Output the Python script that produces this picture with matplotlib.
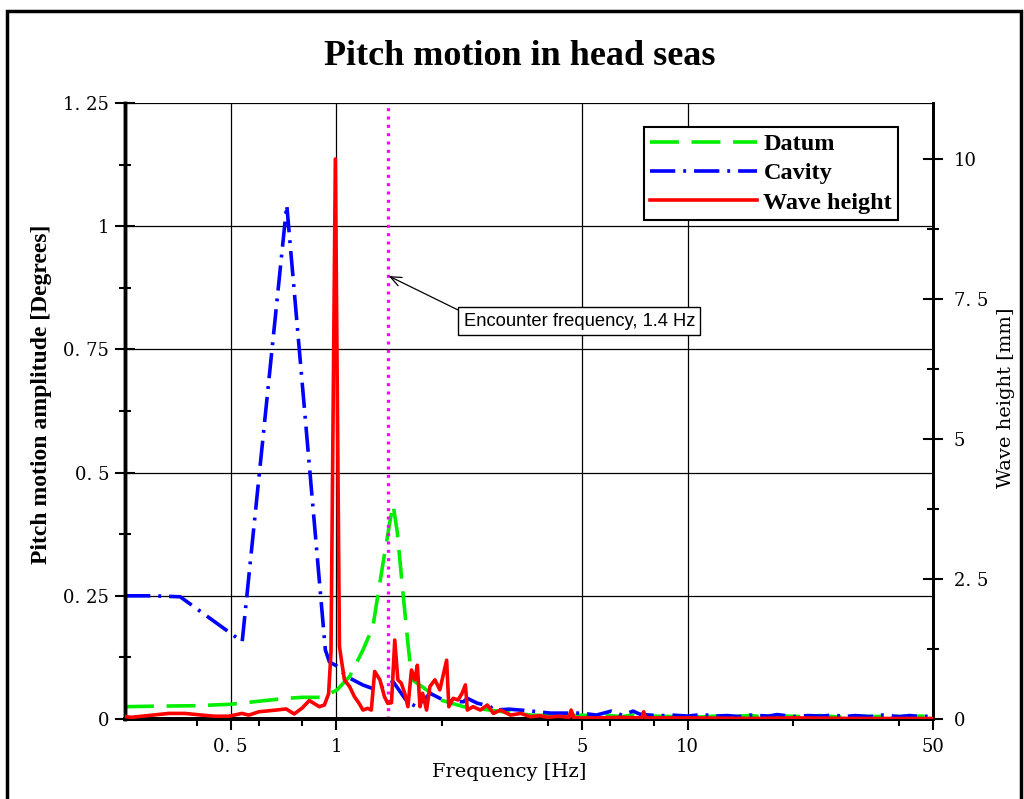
import numpy as np
import matplotlib
matplotlib.use("Agg")
import matplotlib.pyplot as plt
from matplotlib.ticker import NullFormatter
from matplotlib.patches import Rectangle

# Datum pitch amplitude [deg] vs frequency [Hz]
datum_f = [0.25, 0.3, 0.4, 0.5, 0.6, 0.72, 0.8, 0.9, 1.0, 1.09, 1.19, 1.27, 1.36, 1.42, 1.45,
           1.49, 1.55, 1.6, 1.64, 1.76, 1.97, 2.3, 2.74, 3.2, 3.57, 4.0, 4.5, 5.0, 5.5, 6.0, 6.5,
           7.0, 7.5, 8.0, 9.0, 10, 11, 12, 13.5, 15, 17, 19, 21, 24, 27, 30, 34, 38, 42, 46, 50]
datum_v = [0.025, 0.026, 0.027, 0.030, 0.036, 0.042, 0.044, 0.044, 0.058, 0.086, 0.14, 0.187,
           0.32, 0.40, 0.435, 0.38, 0.25, 0.15, 0.08, 0.065, 0.039, 0.025, 0.018, 0.012, 0.008,
           0.007, 0.006, 0.008, 0.005, 0.007, 0.005, 0.008, 0.005, 0.006, 0.005, 0.007, 0.004,
           0.006, 0.005, 0.007, 0.004, 0.006, 0.005, 0.007, 0.004, 0.006, 0.005, 0.006, 0.004,
           0.006, 0.005]

# Cavity pitch amplitude [deg]
cavity_f = [0.25, 0.3, 0.359, 0.539, 0.722, 0.93, 0.955, 1.0, 1.07, 1.19, 1.30, 1.45, 1.59,
            1.69, 1.85, 2.01, 2.15, 2.3, 2.36, 2.52, 2.74, 2.8, 3.1, 3.5, 4.07, 4.44, 4.97, 5.5,
            6.06, 6.5, 7.0, 7.3, 7.8, 8.5, 9.0, 10, 11, 12, 13, 14, 15, 17, 18, 20, 22, 24, 26,
            28, 30, 33, 36, 40, 43, 46, 50]
cavity_v = [0.25, 0.25, 0.248, 0.157, 1.043, 0.14, 0.116, 0.108, 0.086, 0.069, 0.059, 0.076,
            0.035, 0.025, 0.052, 0.039, 0.036, 0.035, 0.042, 0.032, 0.026, 0.018, 0.02, 0.017,
            0.012, 0.012, 0.012, 0.008, 0.016, 0.008, 0.016, 0.01, 0.008, 0.007, 0.008, 0.006,
            0.009, 0.006, 0.007, 0.005, 0.008, 0.006, 0.009, 0.005, 0.007, 0.006, 0.008, 0.005,
            0.007, 0.005, 0.008, 0.005, 0.007, 0.005, 0.006]

# Wave height [mm] (right axis)
wave_f = [0.247, 0.26, 0.30, 0.333, 0.37, 0.414, 0.45, 0.494, 0.538, 0.563, 0.602, 0.673, 0.719,
          0.758, 0.80, 0.837, 0.894, 0.924, 0.95, 0.965, 0.993, 1.02, 1.03, 1.054, 1.09, 1.125,
          1.16, 1.19, 1.227, 1.257, 1.285, 1.33, 1.37, 1.40, 1.435, 1.466, 1.496, 1.53, 1.565,
          1.598, 1.636, 1.672, 1.70, 1.73, 1.76, 1.806, 1.846, 1.908, 1.97, 2.01, 2.06, 2.09,
          2.15, 2.22, 2.28, 2.33, 2.36, 2.45, 2.57, 2.69, 2.8, 2.93, 3.13, 3.35, 3.57, 3.8, 4.0,
          4.3, 4.6, 4.66, 4.75, 5.5, 6.5, 7.4, 7.5, 7.6, 10, 15, 20, 30, 50]
wave_v = [0.05, 0.03, 0.07, 0.10, 0.10, 0.07, 0.05, 0.05, 0.10, 0.07, 0.13, 0.16, 0.18, 0.09,
          0.20, 0.33, 0.22, 0.25, 0.45, 1.2, 10.0, 1.3, 1.11, 0.70, 0.58, 0.40, 0.28, 0.16, 0.19,
          0.16, 0.85, 0.70, 0.40, 0.28, 0.29, 1.41, 0.70, 0.64, 0.46, 0.22, 0.875, 0.70, 0.96,
          0.22, 0.46, 0.16, 0.58, 0.70, 0.52, 0.76, 1.05, 0.22, 0.37, 0.34, 0.46, 0.61, 0.16,
          0.22, 0.16, 0.25, 0.10, 0.16, 0.07, 0.10, 0.04, 0.06, 0.03, 0.05, 0.03, 0.16, 0.02,
          0.02, 0.03, 0.02, 0.13, 0.02, 0.02, 0.01, 0.02, 0.01, 0.01]

encounter_f = 1.4

x_ticks = [0.5, 1, 5, 10, 50]
x_labels = ["0. 5", "1", "5", "10", "50"]
x_minor = [0.4, 0.6, 0.8, 2, 4, 6, 8, 20, 40]
yl_ticks = [0, 0.25, 0.5, 0.75, 1.0, 1.25]
yl_labels = ["0", "0. 25", "0. 5", "0. 75", "1", "1. 25"]
yl_minor = [0.125, 0.375, 0.625, 0.875, 1.125]
yr_ticks = [0, 2.5, 5, 7.5, 10]
yr_labels = ["0", "2. 5", "5", "7. 5", "10"]
yr_minor = [1.25, 3.75, 6.25, 8.75]

tick_font = "DejaVu Serif"
bold_font = "Liberation Serif"

fig = plt.figure(figsize=(10.24, 7.99), dpi=100)
ax = fig.add_axes([0.1221, 0.1001, 0.789, 0.771])
ax2 = ax.twinx()

ax.set_xscale("log")
ax.set_xlim(0.25, 50)
ax.set_ylim(0, 1.25)
ax2.set_ylim(0, 11)

ax.grid(True, which="major", color="black", lw=0.9)
ax.set_axisbelow(True)

l1, = ax.plot(datum_f, datum_v, color="#00ee00", lw=2.6, dashes=(8, 3.5), label="Datum")
l2, = ax.plot(cavity_f, cavity_v, color="#0000ff", lw=2.6, dashes=(7, 2.2, 0.8, 2.2), label="Cavity")
ax2.axvline(encounter_f, color="#ff00ff", lw=2.4, ls=(0, (0.9, 1.6)), zorder=1)
l3, = ax2.plot(wave_f, wave_v, color="#ff0000", lw=2.6, label="Wave height", zorder=3)

ax.set_xticks(x_ticks)
ax.set_xticklabels(x_labels, family=tick_font, fontsize=13)
ax.set_xticks(x_minor, minor=True)
ax.xaxis.set_minor_formatter(NullFormatter())
ax.set_yticks(yl_ticks)
ax.set_yticklabels(yl_labels, family=tick_font, fontsize=13)
ax.set_yticks(yl_minor, minor=True)
ax2.set_yticks(yr_ticks)
ax2.set_yticklabels(yr_labels, family=tick_font, fontsize=13)
ax2.set_yticks(yr_minor, minor=True)

ax.tick_params(axis="x", which="major", direction="out", length=8, width=1.5, pad=6)
ax.tick_params(axis="x", which="minor", direction="out", length=5, width=1.5)
ax.tick_params(axis="y", which="major", direction="inout", length=15, width=1.5, pad=4)
ax.tick_params(axis="y", which="minor", direction="inout", length=9, width=1.5)
ax2.tick_params(axis="y", which="major", direction="inout", length=14, width=1.5, pad=8)
ax2.tick_params(axis="y", which="minor", direction="inout", length=9, width=1.5)

for a in (ax, ax2):
    a.spines["top"].set_visible(False)
    a.spines["left"].set_linewidth(2.5)
    a.spines["bottom"].set_linewidth(2.8)
    a.spines["right"].set_linewidth(2.0)

ax2.annotate("Encounter frequency, 1.4 Hz", xy=(1.41, 7.91), xycoords="data",
             xytext=(0.419, 0.632), textcoords="axes fraction", ha="left", va="bottom",
             family="Liberation Sans", fontsize=13.2,
             bbox=dict(boxstyle="square,pad=0.3", fc="white", ec="black", lw=1.0),
             arrowprops=dict(arrowstyle="->,head_length=0.6,head_width=0.25", color="black",
                             lw=0.9, relpos=(0, 1), shrinkA=0, shrinkB=0))

leg = ax2.legend([l1, l2, l3], ["Datum", "Cavity", "Wave height"], loc="upper right",
                 bbox_to_anchor=(0.957, 0.961), borderaxespad=0, fancybox=False,
                 framealpha=1, edgecolor="black", handlelength=4.4, handletextpad=0.25,
                 labelspacing=0.3, borderpad=0.25,
                 prop={"family": bold_font, "weight": "bold", "size": 17.5})
leg.get_frame().set_linewidth(1.5)

fig.text(0.508, 0.929, "Pitch motion in head seas", ha="center", va="center",
         family=bold_font, weight="bold", fontsize=26)
fig.text(0.041, 0.506, "Pitch motion amplitude [Degrees]", ha="center", va="center",
         rotation=90, family=bold_font, weight="bold", fontsize=17)
fig.text(0.497, 0.034, "Frequency [Hz]", ha="center", va="center", family=tick_font, fontsize=14)
fig.text(0.982, 0.502, "Wave height [mm]", ha="center", va="center", rotation=90,
         family=tick_font, fontsize=14)

fig.patches.append(Rectangle((0.0068, -0.02), 0.99, 1.006, transform=fig.transFigure,
                             fill=False, ec="black", lw=2.5))

fig.savefig("out.png", dpi=100)
